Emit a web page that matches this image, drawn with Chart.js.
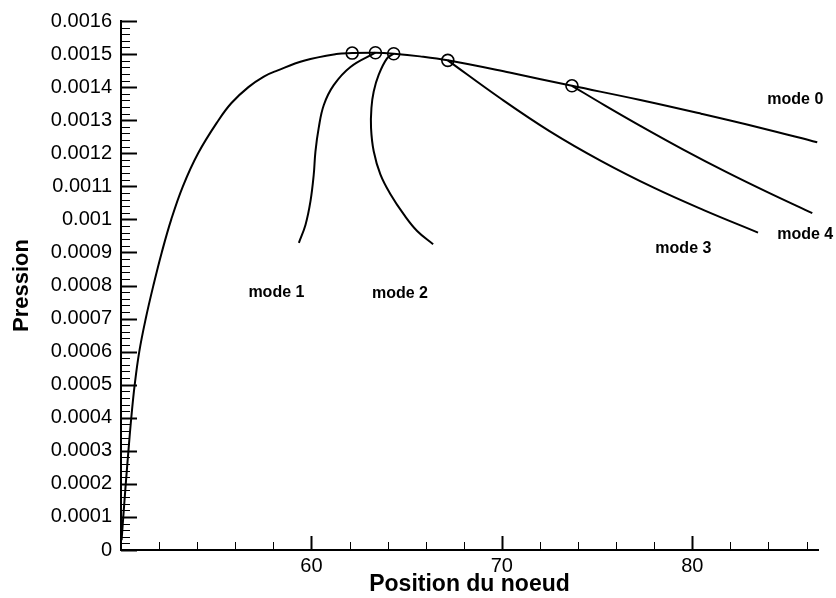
<!DOCTYPE html>
<html>
<head>
<meta charset="utf-8">
<title>Pression / Position du noeud</title>
<script src="https://cdn.jsdelivr.net/npm/chart.js@4/dist/chart.umd.min.js"></script>
<style>
  html, body { margin: 0; padding: 0; background: #fff; }
  canvas { display: block; }
</style>
</head>
<body>
<canvas id="chart" width="836" height="598"></canvas>
<script>
// values
const mode0X = [50.03, 50.12, 50.25, 50.39, 50.54, 50.72, 50.96, 51.3, 51.7, 52.14, 52.64, 53.25, 54.05, 55.12, 55.8, 56.69, 57.5, 58.2, 59.6, 61.3, 62.14, 63.36, 64.32, 65.7, 67.16, 70.4, 73.68, 77.27, 80.5, 83.5, 86.56];
const mode0Y = [0.00003, 0.0001, 0.0002, 0.0003, 0.0004, 0.0005, 0.0006, 0.0007, 0.0008, 0.0009, 0.001, 0.0011, 0.0012, 0.0013, 0.001352, 0.0014, 0.001432, 0.00145, 0.00148, 0.0015, 0.001503, 0.001504, 0.001501, 0.001493, 0.001481, 0.001444, 0.001404, 0.001361, 0.001319, 0.001278, 0.001233];

const mode1X = [63.36, 62.05, 61.17, 60.65, 60.38, 60.21, 60.12, 59.95, 59.69, 59.34];
const mode1Y = [0.001504, 0.001461, 0.001406, 0.001346, 0.001276, 0.001205, 0.001135, 0.001055, 0.000984, 0.000929];

const mode2X = [64.32, 63.97, 63.53, 63.27, 63.15, 63.13, 63.27, 63.62, 64.15, 64.85, 65.55, 66.39];
const mode2Y = [0.001501, 0.001487, 0.001437, 0.001387, 0.001337, 0.001276, 0.001206, 0.001136, 0.001076, 0.001015, 0.000965, 0.000925];

const mode3X = [67.16, 69.9, 72.5, 75.2, 78.0, 80.6, 83.45];
const mode3Y = [0.001481, 0.001367, 0.001267, 0.001177, 0.001095, 0.001028, 0.00096];

const mode4X = [73.68, 75.4, 77.27, 79.5, 81.8, 84.0, 86.3];
const mode4Y = [0.001404, 0.001345, 0.001283, 0.001212, 0.001143, 0.001081, 0.001019];

// branching points (circles)
const branchX = [62.14, 63.36, 64.32, 67.16, 73.68];
const branchY = [0.001503, 0.001504, 0.001501, 0.001481, 0.001404];

// curve labels, anchored in data units
const modeNames = ['mode 0', 'mode 1', 'mode 2', 'mode 3', 'mode 4'];
const modeLabelX = [85.41, 58.16, 64.65, 79.53, 85.93];
const modeLabelY = [0.001362, 0.00078, 0.000777, 0.000913, 0.000955];

const xMajorTicks = [60, 70, 80];

const FONT = "'Liberation Sans', Arial, sans-serif";

function pts(xs, ys) {
  return xs.map((x, i) => ({ x: x, y: ys[i] }));
}

function curve(xs, ys) {
  return {
    data: pts(xs, ys),
    showLine: true,
    borderColor: '#000',
    borderWidth: 2,
    pointRadius: 0,
    tension: 0.4,
    fill: false
  };
}

// Tecplot style ticks: pointing into the plot, major + minor
const innerTicks = {
  id: 'innerTicks',
  afterDraw(chart) {
    const { ctx, chartArea } = chart;
    const xs = chart.scales.x, ys = chart.scales.y;
    ctx.save();
    ctx.strokeStyle = '#000';
    // y axis
    for (let k = 0; k <= 80; k++) {
      const py = Math.round(ys.getPixelForValue(k * 0.00002)) + 0.5;
      const major = k % 5 === 0;
      ctx.lineWidth = major ? 2 : 1;
      ctx.beginPath();
      ctx.moveTo(chartArea.left, py);
      ctx.lineTo(chartArea.left + (major ? 16 : 9), py);
      ctx.stroke();
    }
    // x axis
    for (let v = 52; v <= xs.max; v += 2) {
      const px = Math.round(xs.getPixelForValue(v)) + 0.5;
      const major = v % 10 === 0;
      ctx.lineWidth = major ? 2 : 1;
      ctx.beginPath();
      ctx.moveTo(px, chartArea.bottom);
      ctx.lineTo(px, chartArea.bottom - (major ? 14 : 8));
      ctx.stroke();
    }
    ctx.restore();
  }
};

const modeLabels = {
  id: 'modeLabels',
  afterDatasetsDraw(chart) {
    const { ctx } = chart;
    const xs = chart.scales.x, ys = chart.scales.y;
    ctx.save();
    ctx.fillStyle = '#000';
    ctx.font = 'bold 16px ' + FONT;
    ctx.textAlign = 'center';
    ctx.textBaseline = 'middle';
    modeNames.forEach((name, i) => {
      ctx.fillText(name, xs.getPixelForValue(modeLabelX[i]), ys.getPixelForValue(modeLabelY[i]));
    });
    ctx.restore();
  }
};

new Chart(document.getElementById('chart'), {
  type: 'scatter',
  data: {
    datasets: [
      curve(mode0X, mode0Y),
      curve(mode1X, mode1Y),
      curve(mode2X, mode2Y),
      curve(mode3X, mode3Y),
      curve(mode4X, mode4Y),
      {
        data: pts(branchX, branchY),
        pointStyle: 'circle',
        pointRadius: 6,
        pointBorderWidth: 1.6,
        pointBorderColor: '#000',
        pointBackgroundColor: 'rgba(0,0,0,0)',
        showLine: false
      }
    ]
  },
  options: {
    responsive: false,
    animation: false,
    events: [],
    layout: { padding: { top: 19, right: 18, left: 0, bottom: 0 } },
    plugins: {
      legend: { display: false },
      tooltip: { enabled: false }
    },
    scales: {
      x: {
        type: 'linear',
        min: 50,
        max: 86.6,
        grid: { display: false, drawTicks: false },
        border: { display: true, color: '#000', width: 2 },
        afterBuildTicks: (scale) => {
          scale.ticks = xMajorTicks.map(v => ({ value: v }));
        },
        afterFit: (scale) => { scale.height = 48; },
        ticks: {
          color: '#000',
          padding: 4,
          maxRotation: 0,
          font: { family: FONT, size: 20 }
        },
        title: {
          display: true,
          text: 'Position du noeud',
          color: '#000',
          padding: { top: 0, bottom: 0 },
          font: { family: FONT, size: 23, weight: 'bold' }
        }
      },
      y: {
        type: 'linear',
        min: 0,
        max: 0.0016,
        grid: { display: false, drawTicks: false },
        border: { display: true, color: '#000', width: 2 },
        afterFit: (scale) => { scale.width = 121; },
        ticks: {
          stepSize: 0.0001,
          color: '#000',
          padding: 9,
          font: { family: FONT, size: 20 },
          callback: (v) => String(+v.toFixed(4))
        },
        title: {
          display: true,
          text: 'Pression',
          color: '#000',
          padding: { top: 9, bottom: 0 },
          font: { family: FONT, size: 22, weight: 'bold' }
        }
      }
    }
  },
  plugins: [innerTicks, modeLabels]
});
</script>
</body>
</html>
